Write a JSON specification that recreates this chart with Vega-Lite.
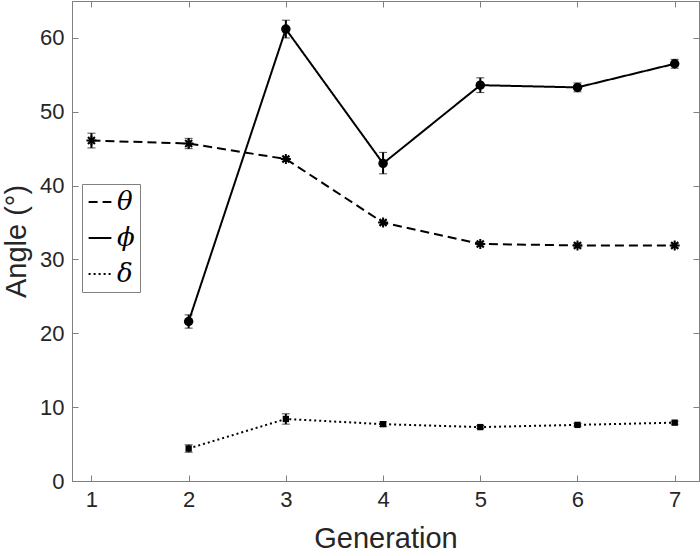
{
  "$schema": "https://vega.github.io/schema/vega-lite/v6.json",
  "width": 627,
  "height": 480,
  "autosize": {"type": "none"},
  "padding": {"left": 72, "top": 1, "right": 1, "bottom": 75},
  "background": "white",
  "config": {
    "view": {"stroke": "#808080", "strokeWidth": 1},
    "font": "Liberation Sans",
    "axis": {
      "grid": false,
      "domainColor": "#808080",
      "tickColor": "#808080",
      "tickSize": -6,
      "labelFontSize": 22,
      "labelColor": "#262626",
      "labelFont": "Liberation Sans",
      "titleFont": "Liberation Sans",
      "titleFontSize": 29,
      "titleFontWeight": "normal",
      "titleColor": "#262626"
    }
  },
  "data": {
    "values": [
      {"gen": 1, "series": "θ", "value": 46.1, "lo": 45.1, "hi": 47.1},
      {"gen": 2, "series": "θ", "value": 45.7, "lo": 45.0, "hi": 46.4},
      {"gen": 3, "series": "θ", "value": 43.6, "lo": 43.3, "hi": 43.9},
      {"gen": 4, "series": "θ", "value": 35.0, "lo": 34.7, "hi": 35.3},
      {"gen": 5, "series": "θ", "value": 32.1, "lo": 31.8, "hi": 32.4},
      {"gen": 6, "series": "θ", "value": 31.9, "lo": 31.6, "hi": 32.2},
      {"gen": 7, "series": "θ", "value": 31.9, "lo": 31.6, "hi": 32.2},
      {"gen": 2, "series": "ϕ", "value": 21.6, "lo": 20.7, "hi": 22.5},
      {"gen": 3, "series": "ϕ", "value": 61.2, "lo": 60.0, "hi": 62.4},
      {"gen": 4, "series": "ϕ", "value": 43.0, "lo": 41.6, "hi": 44.5},
      {"gen": 5, "series": "ϕ", "value": 53.6, "lo": 52.6, "hi": 54.6},
      {"gen": 6, "series": "ϕ", "value": 53.3, "lo": 52.7, "hi": 53.9},
      {"gen": 7, "series": "ϕ", "value": 56.5, "lo": 55.9, "hi": 57.1},
      {"gen": 2, "series": "δ", "value": 4.4, "lo": 3.9, "hi": 4.9},
      {"gen": 3, "series": "δ", "value": 8.4, "lo": 7.7, "hi": 9.1},
      {"gen": 4, "series": "δ", "value": 7.7, "lo": 7.4, "hi": 8.0},
      {"gen": 5, "series": "δ", "value": 7.3, "lo": 7.1, "hi": 7.5},
      {"gen": 6, "series": "δ", "value": 7.6, "lo": 7.4, "hi": 7.8},
      {"gen": 7, "series": "δ", "value": 7.9, "lo": 7.7, "hi": 8.1}
    ]
  },
  "resolve": {"axis": {"x": "independent", "y": "independent"}},
  "layer": [
    {
      "mark": {"type": "line", "strokeWidth": 2, "color": "black"},
      "encoding": {
        "x": {"field": "gen", "type": "quantitative", "scale": {"domain": [0.8, 7.25], "nice": false, "zero": false},
              "axis": {"orient": "bottom", "title": "Generation", "values": [1, 2, 3, 4, 5, 6, 7], "labelPadding": 14, "titlePadding": 14}},
        "y": {"field": "value", "type": "quantitative", "scale": {"domain": [0, 65], "nice": false},
              "axis": {"orient": "left", "title": "Angle (°)", "values": [0, 10, 20, 30, 40, 50, 60], "labelPadding": 14, "titlePadding": 8}},
        "strokeDash": {
          "field": "series", "type": "nominal",
          "scale": {"domain": ["θ", "ϕ", "δ"], "range": [[9, 5], [1, 0], [2, 3]]},
          "legend": {
            "orient": "none", "legendX": 10, "legendY": 183,
            "title": null,
            "fillColor": "white", "strokeColor": "#808080",
            "padding": 5,
            "symbolType": "stroke", "symbolSize": 520, "symbolStrokeWidth": 2, "symbolStrokeColor": "black",
            "labelFont": "DejaVu Serif", "labelFontStyle": "italic", "labelFontSize": 26, "labelColor": "black",
            "labelOffset": 4,
            "rowPadding": 10
          }
        },
        "detail": {"field": "series"}
      }
    },
    {
      "mark": {"type": "errorbar", "ticks": {"size": 8, "color": "black", "strokeWidth": 2}, "rule": {"strokeWidth": 2, "color": "black"}, "color": "black"},
      "encoding": {
        "x": {"field": "gen", "type": "quantitative", "axis": null},
        "y": {"field": "lo", "type": "quantitative", "axis": null},
        "y2": {"field": "hi"},
        "detail": {"field": "series"}
      }
    },
    {
      "transform": [{"filter": "datum.series === 'θ'"}],
      "mark": {"type": "point", "shape": "M-1,0H1M0,-1V1M-0.7,-0.7L0.7,0.7M-0.7,0.7L0.7,-0.7", "filled": false, "stroke": "black", "strokeWidth": 2, "size": 100, "opacity": 1},
      "encoding": {
        "x": {"field": "gen", "type": "quantitative", "axis": {"orient": "top", "labels": false, "title": null, "values": [1, 2, 3, 4, 5, 6, 7]}},
        "y": {"field": "value", "type": "quantitative", "axis": {"orient": "right", "labels": false, "title": null, "values": [0, 10, 20, 30, 40, 50, 60]}}
      }
    },
    {
      "transform": [{"filter": "datum.series === 'ϕ'"}],
      "mark": {"type": "point", "shape": "circle", "filled": true, "color": "black", "size": 90, "opacity": 1},
      "encoding": {
        "x": {"field": "gen", "type": "quantitative", "axis": null},
        "y": {"field": "value", "type": "quantitative", "axis": null}
      }
    },
    {
      "transform": [{"filter": "datum.series === 'δ'"}],
      "mark": {"type": "point", "shape": "square", "filled": true, "color": "black", "size": 40, "opacity": 1},
      "encoding": {
        "x": {"field": "gen", "type": "quantitative", "axis": null},
        "y": {"field": "value", "type": "quantitative", "axis": null}
      }
    }
  ]
}
